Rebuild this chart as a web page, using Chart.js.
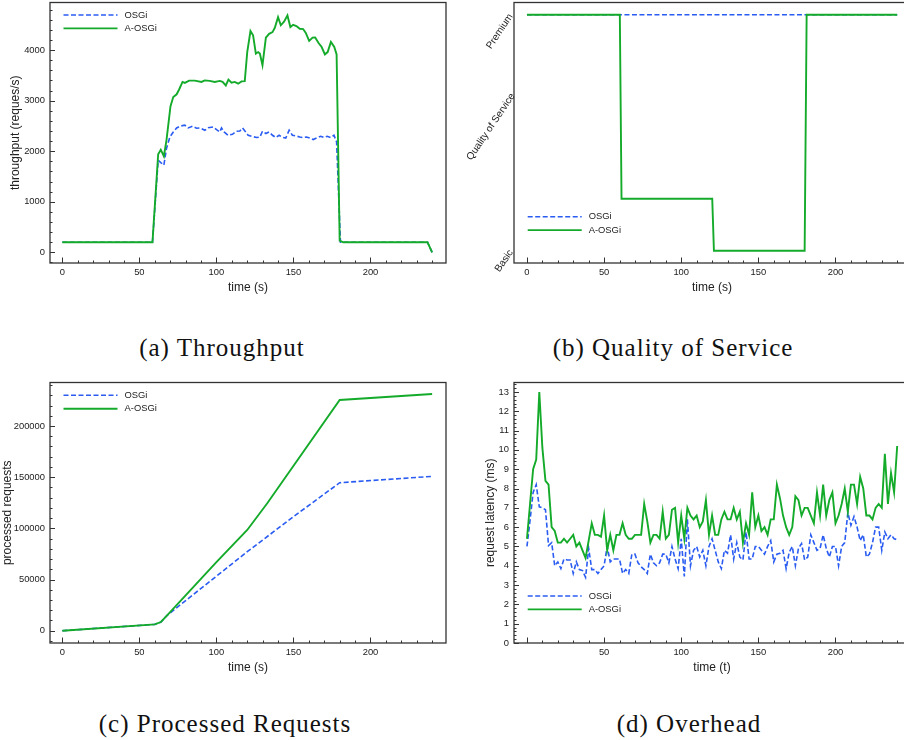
<!DOCTYPE html>
<html>
<head>
<meta charset="utf-8">
<script src="https://cdn.jsdelivr.net/npm/chart.js@4/dist/chart.umd.min.js"></script>
<style>
  html, body { margin: 0; padding: 0; background: #fff; overflow: hidden; }
  body { width: 904px; height: 740px; position: relative; }
  canvas { position: absolute; }
  .cap { position: absolute; font-family: "Liberation Serif", serif; font-size: 25px; letter-spacing: 1px;
         color: #111; white-space: nowrap; transform: translate(-50%, -50%); }
</style>
</head>
<body>
<canvas id="chartA" width="452" height="300" style="left:0;top:0"></canvas>
<canvas id="chartB" width="460" height="300" style="left:452px;top:0"></canvas>
<canvas id="chartC" width="452" height="300" style="left:0;top:380px"></canvas>
<canvas id="chartD" width="460" height="300" style="left:452px;top:380px"></canvas>
<div class="cap" style="left:222px;top:348px">(a) Throughput</div>
<div class="cap" style="left:673px;top:348px">(b) Quality of Service</div>
<div class="cap" style="left:225px;top:724px">(c) Processed Requests</div>
<div class="cap" style="left:689px;top:724px">(d) Overhead</div>
<script>
// shared time axis ticks (s)
const timeTicks = [0, 50, 100, 150, 200]

// (a) throughput, requests/s
const thrTicks = [0, 1000, 2000, 3000, 4000]
const thrOsgiTime = [0, 58.5, 62.2, 63.9, 65.9, 67.6, 69.8, 72, 74.2, 76.3, 79.5, 81.7, 84.5, 87.1, 89.3, 92.5, 94.7, 97.9, 100.1, 102.2, 103.3, 105, 107.6, 110.4, 113, 115.2, 116.9, 119, 120.6, 122.8, 126.1, 128.2, 129.9, 132.1, 134.2, 136.4, 138.6, 140.7, 142.9, 145, 147.2, 149.3, 151.9, 154.1, 156.3, 158.4, 160.6, 162.8, 165.4, 167.6, 169.8, 171.9, 174.1, 176.3, 178, 180.5, 237, 240]
const thrOsgi = [200, 200, 1820, 1775, 1725, 2055, 2280, 2380, 2460, 2495, 2515, 2460, 2495, 2455, 2460, 2415, 2465, 2480, 2425, 2380, 2460, 2380, 2315, 2335, 2395, 2400, 2460, 2380, 2315, 2295, 2270, 2280, 2395, 2350, 2380, 2315, 2270, 2315, 2275, 2260, 2415, 2315, 2300, 2280, 2270, 2280, 2260, 2230, 2265, 2295, 2270, 2295, 2270, 2315, 2185, 200, 200, 0]
const thrAosgiTime = [0, 58.5, 62.2, 63.9, 65.9, 67.6, 70.2, 72, 74.2, 75.8, 78, 79.5, 82.3, 86, 90.3, 92.4, 95.6, 98.9, 102.2, 104, 106.1, 107.8, 109.8, 111.9, 114.1, 116.3, 118.4, 120, 122.1, 123.8, 125.6, 127.1, 128.2, 129.9, 132.1, 134.2, 136.4, 137.9, 140, 141.8, 144, 146.1, 148, 149.8, 151.9, 154.1, 156.3, 158, 160.2, 162.4, 164.1, 166.3, 168.3, 170.4, 172.2, 174.3, 176.5, 178, 180, 182.3, 237, 240]
const thrAosgi = [200, 200, 1940, 2030, 1900, 2220, 2890, 3070, 3125, 3220, 3370, 3350, 3395, 3395, 3370, 3400, 3390, 3370, 3390, 3370, 3300, 3415, 3355, 3370, 3335, 3380, 3385, 3960, 4375, 4290, 3930, 3960, 3930, 3700, 4245, 4320, 4355, 4440, 4650, 4490, 4565, 4685, 4455, 4500, 4475, 4420, 4415, 4340, 4180, 4245, 4250, 4140, 4060, 3915, 3960, 4160, 4060, 3915, 230, 200, 200, 0]

// (b) quality of service level (Basic = 0, Premium = 1)
const qosTickValues = [0, 1]
const qosTickLabels = ["Basic", "Premium"]
const qosOsgiTime = [0, 240]
const qosOsgi = [1, 1]
const qosAosgiTime = [0, 60.2, 61.3, 120.1, 121.2, 180, 181.3, 240]
const qosAosgi = [1, 1, 0.22, 0.22, 0, 0, 1, 1]

// (c) processed requests (cumulative)
const procTicks = [0, 50000, 100000, 150000, 200000]
const procOsgiTime = [0, 60, 64, 68, 120, 150, 180, 240]
const procOsgi = [0, 6200, 8500, 15000, 77200, 111400, 144600, 150800]
const procAosgiTime = [0, 60, 64, 68, 100, 120, 133, 180, 240]
const procAosgi = [0, 6200, 8500, 15000, 67000, 98400, 124500, 225400, 231300]

// (d) request latency (ms), sampled every 2 s
const latTicks = [0, 1, 2, 3, 4, 5, 6, 7, 8, 9, 10, 11, 12, 13]
const latTime = Array.from({ length: 121 }, (_, i) => i * 2)
const latOsgi = [5.0, 6.35, 7.8, 8.2, 7.05, 7.0, 6.9, 5.05, 5.2, 4.0, 4.2, 3.85, 4.35, 4.3, 4.3, 3.6, 4.2, 3.8, 3.75, 3.4,
  4.9, 3.8, 3.8, 3.6, 3.8, 4.0, 5.0, 4.2, 4.35, 4.35, 4.35, 3.6, 3.8, 3.6, 4.6, 4.6, 4.15, 3.95, 3.8, 3.6,
  4.6, 4.15, 4.0, 4.15, 4.6, 4.6, 4.15, 5.0, 4.35, 3.85, 5.4, 3.45, 6.4, 4.0, 4.8, 5.0, 4.45, 4.8, 4.0, 5.0,
  5.4, 4.8, 4.2, 3.85, 4.8, 4.65, 5.6, 4.35, 5.2, 4.45, 4.3, 5.75, 4.35, 4.35, 5.0, 5.0, 4.8, 4.6, 5.0, 5.3,
  4.2, 4.6, 4.65, 4.8, 3.85, 4.7, 5.0, 4.0, 4.9, 5.15, 4.3, 4.45, 5.6, 5.2, 4.8, 4.9, 5.6, 4.9, 4.45, 5.0,
  5.0, 4.0, 5.0, 5.2, 6.75, 6.1, 6.55, 6.0, 5.3, 5.6, 4.45, 4.6, 5.2, 6.0, 6.0, 4.8, 5.75, 5.4, 5.6, 5.4, 5.35]
const latAosgi = [5.4, 7.2, 9.0, 9.5, 13.0, 10.1, 8.4, 8.2, 6.0, 5.8, 5.2, 5.2, 5.4, 5.2, 5.4, 5.6, 5.0, 5.2, 4.8, 4.4,
  5.3, 6.2, 5.6, 5.6, 5.5, 6.6, 4.8, 5.6, 4.8, 5.6, 5.6, 6.2, 5.6, 5.4, 5.4, 5.6, 5.6, 5.6, 7.2, 6.3,
  5.2, 5.6, 5.6, 5.4, 6.8, 5.4, 5.6, 6.9, 7.0, 5.2, 6.6, 5.4, 7.0, 6.6, 6.4, 6.6, 6.0, 6.3, 7.4, 5.6,
  6.6, 5.6, 5.6, 6.4, 6.8, 6.4, 6.4, 7.0, 6.4, 6.8, 5.2, 6.2, 5.6, 7.8, 6.0, 6.6, 5.8, 6.0, 5.6, 6.4,
  6.4, 8.2, 7.5, 6.6, 6.0, 5.6, 6.0, 7.6, 7.4, 6.6, 7.0, 7.0, 6.6, 6.2, 7.8, 6.6, 8.2, 6.6, 7.4, 7.8,
  6.2, 6.6, 7.2, 8.0, 6.8, 8.2, 8.2, 7.2, 8.6, 8.0, 6.6, 6.6, 6.4, 7.0, 7.2, 7.0, 9.8, 7.2, 8.8, 7.8, 10.2]

const BLUE = "#2a5cf2"
const GREEN = "#14aa2a"
const TEXT = "#222"
const SANS = '"Liberation Sans", Arial, sans-serif'

const pts = (xs, ys) => xs.map((x, i) => ({ x: x, y: ys[i] }))

function series(tOsgi, osgi, tAosgi, aosgi) {
  return [
    { label: "OSGi", data: pts(tOsgi, osgi), borderColor: BLUE, borderWidth: 1.6, borderDash: [5, 2.5], order: 1 },
    { label: "A-OSGi", data: pts(tAosgi, aosgi), borderColor: GREEN, borderWidth: 1.9, order: 0 }
  ]
}

// box around the plot with inward ticks (major + minor)
const frame = {
  id: "frame",
  afterDraw(chart, args, o) {
    const { ctx, chartArea: a, scales } = chart
    ctx.save()
    ctx.strokeStyle = "#333"
    ctx.lineWidth = 1.3
    ctx.strokeRect(a.left, a.top, a.right - a.left, a.bottom - a.top)
    ctx.lineWidth = 1
    const tick = (axis, v, len) => {
      const s = scales[axis]
      const p = Math.round(s.getPixelForValue(v)) + 0.5
      ctx.beginPath()
      if (axis === "x") { ctx.moveTo(p, a.bottom); ctx.lineTo(p, a.bottom - len) }
      else { ctx.moveTo(a.left, p); ctx.lineTo(a.left + len, p) }
      ctx.stroke()
    }
    const minors = (axis, step) => {
      const s = scales[axis]
      for (let k = Math.ceil(s.min / step); k * step <= s.max; k++) tick(axis, k * step, 2.5)
    }
    if (o.xMinor) minors("x", o.xMinor)
    scales.x.ticks.forEach(t => tick("x", t.value, 5.5))
    if (o.yMinor) {
      minors("y", o.yMinor)
      scales.y.ticks.forEach(t => tick("y", t.value, 5))
    }
    ctx.restore()
  }
}

// legend drawn inside the plot area
const insideLegend = {
  id: "insideLegend",
  afterDraw(chart, args, o) {
    const { ctx, chartArea: a } = chart
    ctx.save()
    ctx.font = "9.4px " + SANS
    ctx.textBaseline = "middle"
    ctx.fillStyle = TEXT
    chart.data.datasets.forEach((ds, i) => {
      const y = (o.fromBottom ? a.bottom - o.y : a.top + o.y) + i * 13.4
      const x = a.left + o.x
      ctx.strokeStyle = ds.borderColor
      ctx.lineWidth = ds.borderWidth
      ctx.setLineDash(ds.borderDash || [])
      ctx.beginPath()
      ctx.moveTo(x, y)
      ctx.lineTo(x + 54, y)
      ctx.stroke()
      ctx.setLineDash([])
      ctx.fillText(ds.label, x + 61, y)
    })
    ctx.restore()
  }
}

// slanted y labels and title for the QoS panel
const slantedY = {
  id: "slantedY",
  afterDraw(chart, args, o) {
    if (!o.labels) return
    const { ctx, chartArea: a, scales } = chart
    const rot = -56 * Math.PI / 180
    ctx.save()
    ctx.fillStyle = TEXT
    ctx.font = "10px " + SANS
    ctx.textBaseline = "middle"
    ctx.textAlign = "right"
    o.values.forEach((v, i) => {
      ctx.save()
      ctx.translate(a.left - 3, scales.y.getPixelForValue(v))
      ctx.rotate(rot)
      ctx.fillText(o.labels[i], 0, 0)
      ctx.restore()
    })
    ctx.textAlign = "center"
    ctx.translate(a.left - 23, (a.top + a.bottom) / 2 - 6)
    ctx.rotate(rot)
    ctx.fillText(o.title, 0, 0)
    ctx.restore()
  }
}

function makeChart(id, datasets, cfg) {
  const tickFont = { family: SANS, size: 9.4 }
  const titleFont = { family: SANS, size: 12 }
  return new Chart(document.getElementById(id), {
    type: "line",
    data: { datasets: datasets },
    plugins: [frame, insideLegend, slantedY],
    options: {
      responsive: false,
      animation: false,
      devicePixelRatio: 1,
      layout: { padding: { top: 2.5, left: 0, right: cfg.padRight, bottom: 0 } },
      elements: { point: { radius: 0 }, line: { tension: 0 } },
      plugins: {
        legend: { display: false },
        tooltip: { enabled: false },
        frame: { xMinor: 10, yMinor: cfg.yMinor },
        insideLegend: cfg.legend,
        slantedY: cfg.slanted || {}
      },
      scales: {
        x: {
          type: "linear", min: cfg.xMin, max: cfg.xMax,
          afterBuildTicks: s => { s.ticks = timeTicks.map(v => ({ value: v })) },
          afterFit: s => { s.height = 37; s.paddingLeft = 0; s.paddingRight = 0 },
          grid: { display: false, drawTicks: false }, border: { display: false },
          ticks: { padding: 4, color: TEXT, font: tickFont, maxRotation: 0, autoSkip: false,
                   callback: v => (cfg.hideZero && v === 0) ? "" : String(v) },
          title: { display: true, text: cfg.xTitle, color: TEXT, font: titleFont, padding: { top: 0, bottom: 5.5 } }
        },
        y: {
          type: "linear", min: cfg.yMin, max: cfg.yMax,
          afterBuildTicks: s => { s.ticks = cfg.yTicks.map(v => ({ value: v })) },
          afterFit: s => { s.width = cfg.yWidth; s.paddingTop = 0; s.paddingBottom = 0 },
          grid: { display: false, drawTicks: false }, border: { display: false },
          ticks: { display: !cfg.slanted, padding: 5, color: TEXT, font: tickFont, autoSkip: false,
                   callback: v => String(v) },
          title: { display: !cfg.slanted, text: cfg.yTitle || "", color: TEXT, font: titleFont, padding: { top: cfg.yTitlePad || 0, bottom: 0 } }
        }
      }
    }
  })
}

makeChart("chartA", series(thrOsgiTime, thrOsgi, thrAosgiTime, thrAosgi), {
  padRight: 6, yWidth: 50, xMin: -8, xMax: 249, yMin: -210, yMax: 4940, yTicks: thrTicks, yMinor: 200,
  xTitle: "time (s)", yTitle: "throughput (reques/s)", yTitlePad: 8.8,
  legend: { x: 13.5, y: 12.5 }
})

makeChart("chartB", series(qosOsgiTime, qosOsgi, qosAosgiTime, qosAosgi), {
  padRight: 2, yWidth: 62, xMin: -8.4, xMax: 248.3, yMin: -0.052, yMax: 1.052, yTicks: qosTickValues,
  xTitle: "time (s)",
  legend: { x: 13.7, y: 46.3, fromBottom: true },
  slanted: { values: qosTickValues, labels: qosTickLabels, title: "Quality of Service" }
})

makeChart("chartC", series(procOsgiTime, procOsgi, procAosgiTime, procAosgi), {
  padRight: 6, yWidth: 50, xMin: -8, xMax: 249, yMin: -12000, yMax: 242500, yTicks: procTicks, yMinor: 10000,
  xTitle: "time (s)", yTitle: "processed requests", yTitlePad: 0,
  legend: { x: 13.5, y: 12.8 }
})

makeChart("chartD", series(latTime, latOsgi, latTime, latAosgi), {
  padRight: 2, yWidth: 62, xMin: -8.4, xMax: 248.3, yMin: 0, yMax: 13.49, yTicks: latTicks, yMinor: 0.2,
  xTitle: "time (t)", yTitle: "request latency (ms)", yTitlePad: 31.3, hideZero: true,
  legend: { x: 13.7, y: 47, fromBottom: true }
})
</script>
</body>
</html>
